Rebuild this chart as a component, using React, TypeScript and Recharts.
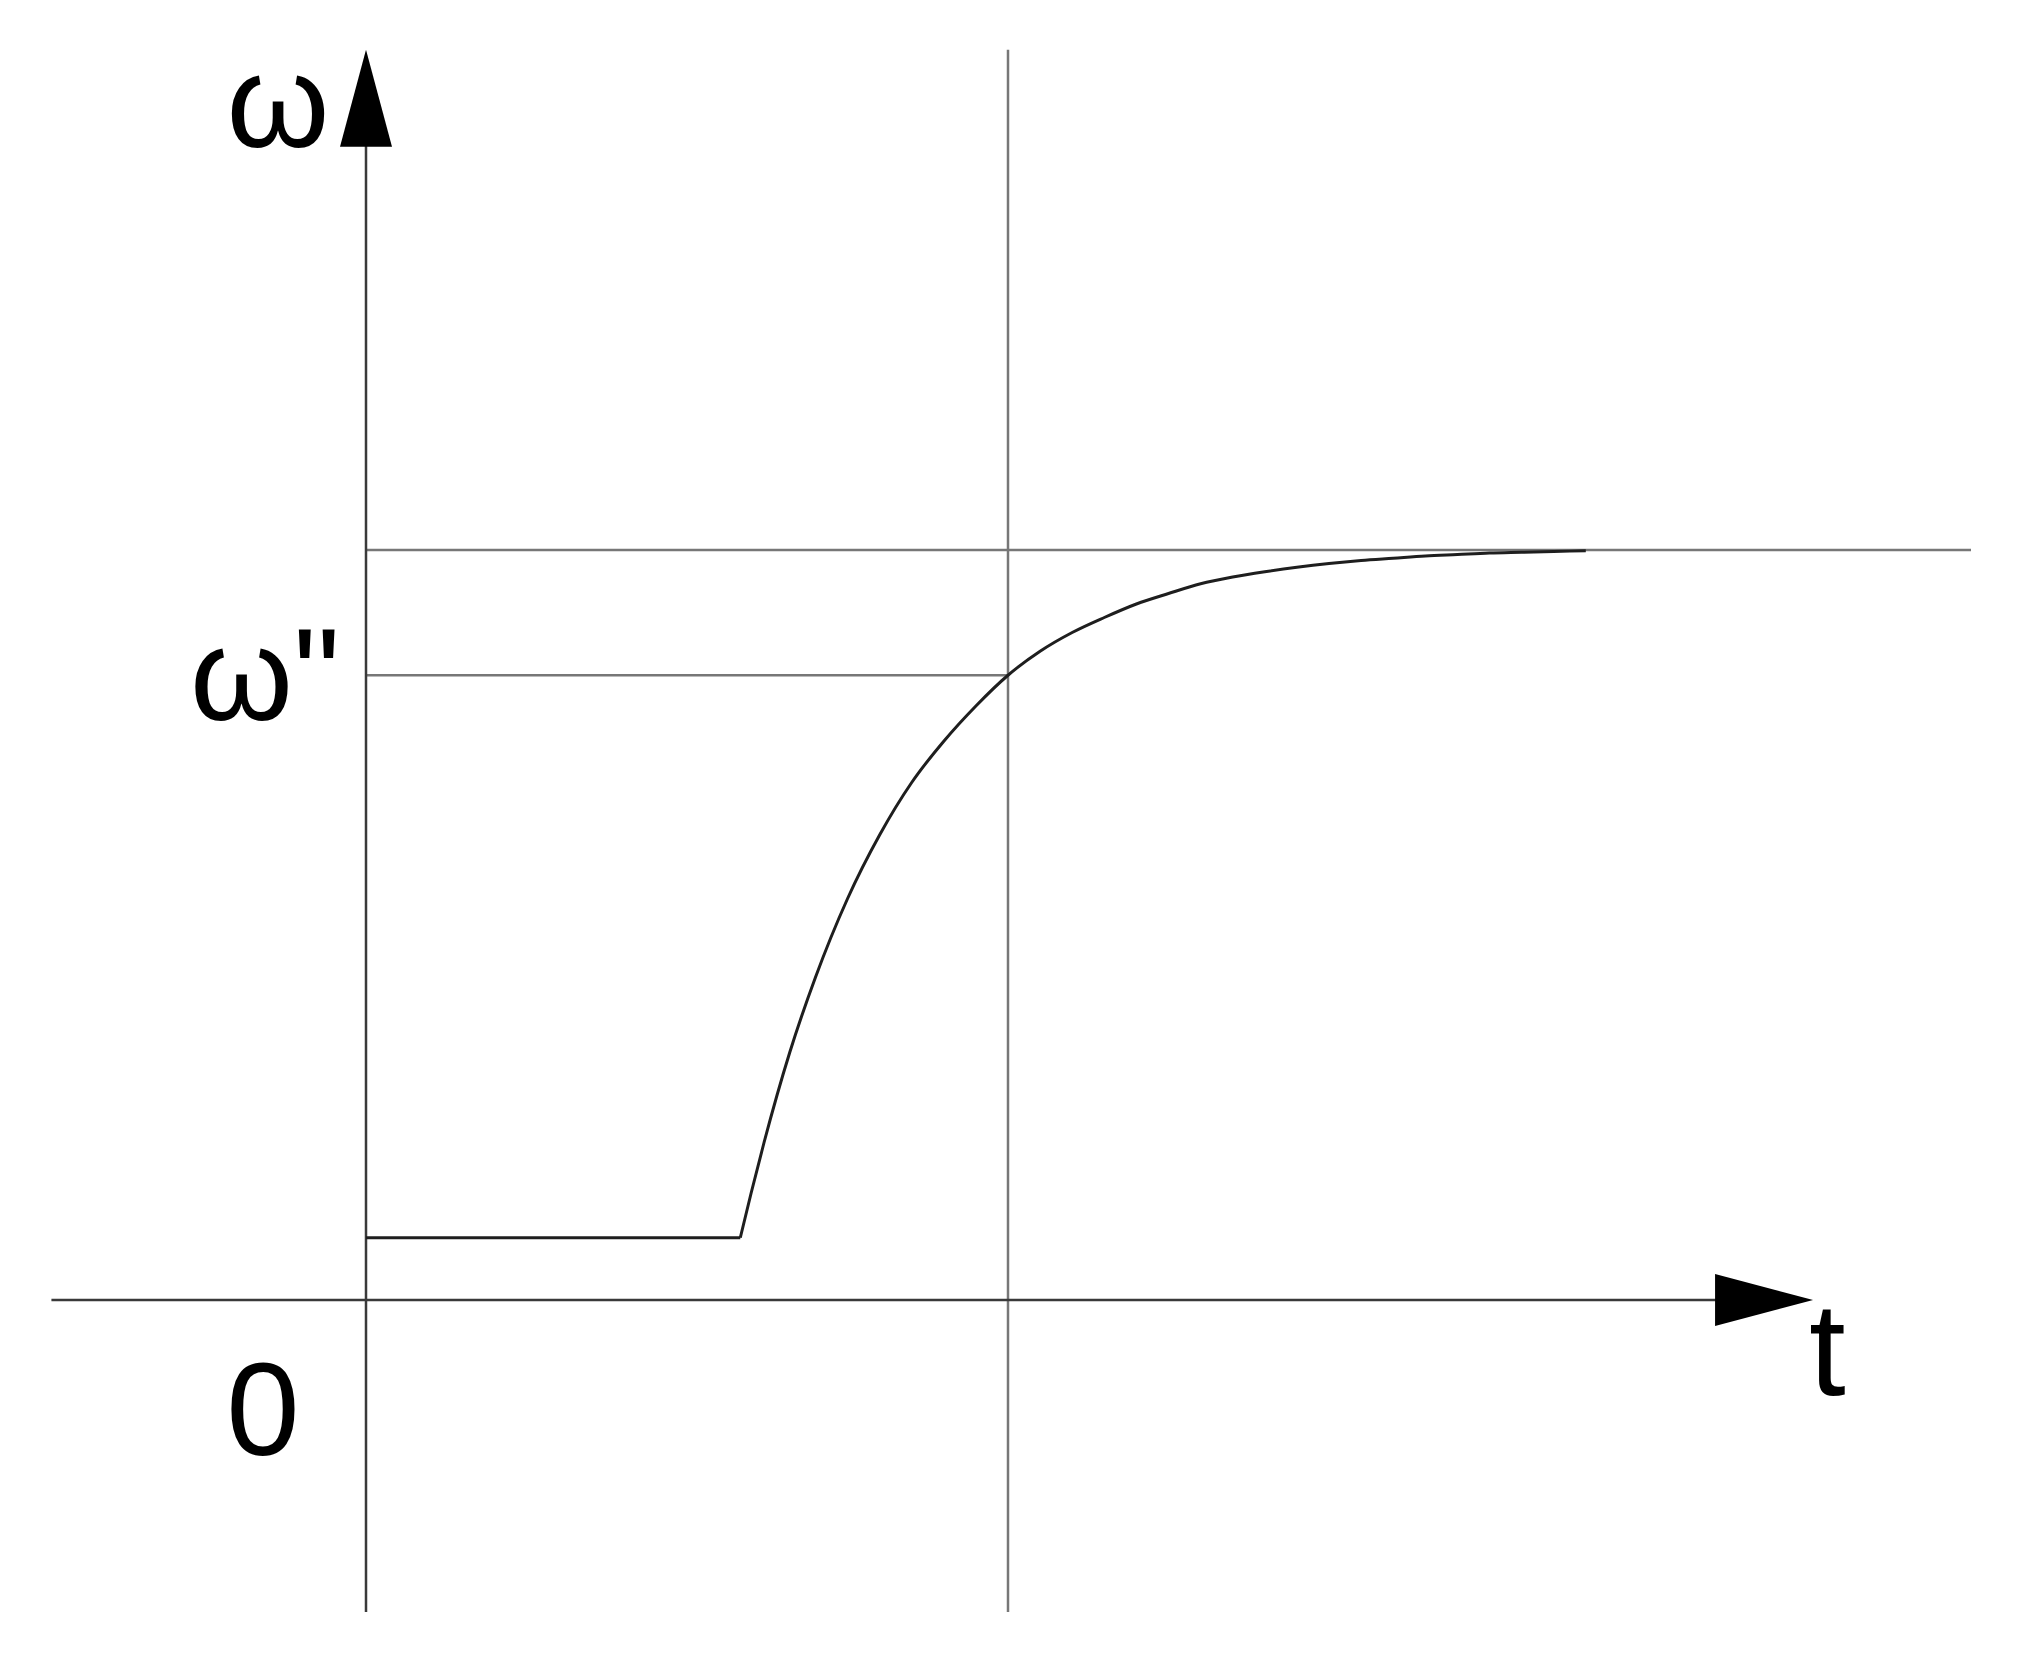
import { LineChart, Line, XAxis, YAxis, ReferenceLine, ReferenceDot } from 'recharts'

// flat segment before the rise
const flatT = [0, 5.83]
const flatW = [0.83, 0.83]

// rise towards the final value
const riseT = [5.83, 6.0, 6.2, 6.6, 7.0, 7.5, 8.0, 8.5, 9.0, 9.5, 10, 10.5, 11, 11.5, 12, 12.5, 13, 13.5, 14, 14.5, 15, 15.5, 16, 16.5, 17, 17.5, 18, 18.5, 19]
const riseW = [0.83, 1.43, 2.1, 3.3, 4.3, 5.35, 6.2, 6.9, 7.45, 7.92, 8.33, 8.65, 8.9, 9.1, 9.28, 9.42, 9.55, 9.64, 9.71, 9.77, 9.82, 9.86, 9.89, 9.92, 9.94, 9.96, 9.97, 9.98, 9.99]

const wFinal = 10
const wMarked = 8.33
const tMarked = 10
const tDomain: [number, number] = [-5, 25]
const wDomain: [number, number] = [-4.2, 16.8]
const xAxisStart = -4.9
const xArrowTip = 22.54
const yAxisBottom = -4.16
const yArrowTip = 16.67

const flatData = flatT.map((t, i) => ({ t, w: flatW[i] }))
const riseData = riseT.map((t, i) => ({ t, w: riseW[i] }))

const FONT = '"Liberation Sans", Arial, sans-serif'
const AXIS = '#3a3a3a'
const GUIDE = '#777'
const CURVE = '#1e1e1e'

const upArrow = (p: any) => (
  <polygon points={`${p.cx},${p.cy} ${p.cx - 26},${p.cy + 97} ${p.cx + 26},${p.cy + 97}`} fill="#000" />
)
const rightArrow = (p: any) => (
  <polygon points={`${p.cx},${p.cy} ${p.cx - 98},${p.cy - 26} ${p.cx - 98},${p.cy + 26}`} fill="#000" />
)

const textAt = (s: string, dx: number, dy: number, anchor: string) => (p: any) => (
  <text
    x={p.cx + dx}
    y={p.cy + dy}
    textAnchor={anchor}
    style={{ fontFamily: FONT, fontSize: 132, fill: '#000' }}
  >
    {s}
  </text>
)

export default function App() {
  return (
    <div style={{ position: 'absolute', left: 0, top: 0, width: 2040, height: 1672, background: '#fff' }}>
      <LineChart width={2040} height={1672} margin={{ top: 40, right: 69, left: 45, bottom: 57 }}>
        <XAxis type="number" dataKey="t" domain={tDomain} allowDataOverflow hide />
        <YAxis type="number" dataKey="w" domain={wDomain} allowDataOverflow hide />

        {/* guide lines */}
        <ReferenceLine segment={[{ x: 0, y: wFinal }, { x: tDomain[1], y: wFinal }]} stroke={GUIDE} strokeWidth={2.5} />
        <ReferenceLine segment={[{ x: 0, y: wMarked }, { x: tMarked, y: wMarked }]} stroke={GUIDE} strokeWidth={2.5} />
        <ReferenceLine segment={[{ x: tMarked, y: yAxisBottom }, { x: tMarked, y: yArrowTip }]} stroke={GUIDE} strokeWidth={2.5} />

        {/* axes */}
        <ReferenceLine segment={[{ x: xAxisStart, y: 0 }, { x: xArrowTip - 1, y: 0 }]} stroke={AXIS} strokeWidth={2.5} />
        <ReferenceLine segment={[{ x: 0, y: yAxisBottom }, { x: 0, y: yArrowTip - 1 }]} stroke={AXIS} strokeWidth={2.5} />

        <Line data={flatData} dataKey="w" type="linear" stroke={CURVE} strokeWidth={3} dot={false} isAnimationActive={false} />
        <Line data={riseData} dataKey="w" type="monotone" stroke={CURVE} strokeWidth={3} dot={false} isAnimationActive={false} />

        <ReferenceDot x={0} y={yArrowTip} r={0} shape={upArrow} />
        <ReferenceDot x={xArrowTip} y={0} r={0} shape={rightArrow} />

        <ReferenceDot x={0} y={yArrowTip} r={0} shape={textAt('ω', -88, 97, 'middle')} />
        <ReferenceDot x={0} y={wMarked} r={0} shape={textAt('ω"', -26, 45, 'end')} />
        <ReferenceDot x={0} y={0} r={0} shape={textAt('0', -103, 155, 'middle')} />
        <ReferenceDot x={xArrowTip} y={0} r={0} shape={textAt('t', -4, 95, 'start')} />
      </LineChart>
    </div>
  )
}
